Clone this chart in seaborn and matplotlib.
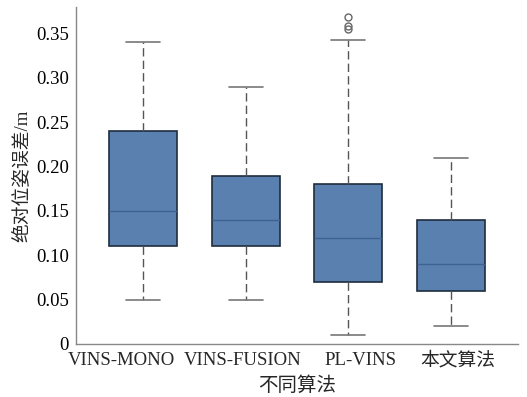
import numpy as np
import pandas as pd
import matplotlib
matplotlib.use("Agg")
import matplotlib.pyplot as plt
import seaborn as sns

categories = ["VINS-MONO", "VINS-FUSION", "PL-VINS", "本文算法"]
vins_mono = [0.05, 0.11, 0.15, 0.24, 0.34]
vins_fusion = [0.05, 0.11, 0.14, 0.19, 0.29]
pl_vins = [0.01, 0.03, 0.05, 0.06, 0.07, 0.08, 0.10, 0.11, 0.12,
           0.14, 0.16, 0.17, 0.18, 0.343, 0.355, 0.359, 0.369]
ours = [0.02, 0.06, 0.09, 0.14, 0.21]
yticks = [0, 0.05, 0.10, 0.15, 0.20, 0.25, 0.30, 0.35]
ytick_labels = ["0", "0.05", "0.10", "0.15", "0.20", "0.25", "0.30", "0.35"]
xlabel = "不同算法"
ylabel = "绝对位姿误差/m"

groups = [vins_mono, vins_fusion, pl_vins, ours]
df = pd.DataFrame({
    "alg": np.concatenate([[c] * len(g) for c, g in zip(categories, groups)]),
    "err": np.concatenate(groups),
})

sns.set_style("white")
plt.rcParams["font.family"] = ["Liberation Serif", "Noto Sans CJK SC", "DejaVu Sans"]

fig = plt.figure(figsize=(5.27, 3.97), dpi=100)
ax = fig.add_axes([76 / 527, 1 - 344 / 397, (518 - 76) / 527, (344 - 7) / 397])

sns.boxplot(
    data=df, x="alg", y="err", order=categories, ax=ax,
    color="#5a80b0", saturation=1, width=0.66, whis=1.5,
    boxprops=dict(facecolor="#5a80b0", edgecolor="#1f2d3d", linewidth=1.2),
    medianprops=dict(color="#3e6390", linewidth=1.0),
    whiskerprops=dict(color="#555555", linestyle=(0, (6, 3)), linewidth=1.0),
    capprops=dict(color="#777777", linewidth=1.2),
    flierprops=dict(marker="o", markersize=5, markerfacecolor="none",
                    markeredgecolor="#666666", markeredgewidth=1.0),
)

ax.set_ylim(0, 0.38)
ax.set_xlim(-0.65, 3.65)
ax.set_yticks(yticks)
ax.set_yticklabels(ytick_labels, fontsize=13.5)
ax.set_xticks(range(len(categories)))
ax.set_xticklabels([""] * len(categories))
ax.set_xlabel(xlabel, fontsize=14, labelpad=20)
ax.set_ylabel(ylabel, fontsize=13.5, labelpad=4)

# category labels, nudged horizontally (pixels) as in the reference layout
label_shift_px = [-21, -3, 12, 7]
for i, (cat, dx) in enumerate(zip(categories, label_shift_px)):
    ax.annotate(cat, xy=(i, 0), xycoords=ax.get_xaxis_transform(),
                xytext=(dx * 0.72, -5.5), textcoords="offset points",
                ha="center", va="top", fontsize=13.5, annotation_clip=False)

for s in ["top", "right"]:
    ax.spines[s].set_visible(False)
for s in ["left", "bottom"]:
    ax.spines[s].set_color("#888888")
    ax.spines[s].set_linewidth(1.0)

ax.tick_params(axis="both", direction="in", length=4, width=1.0, color="#888888",
               labelcolor="black")
ax.tick_params(axis="y", pad=5)
ax.set_yticks([0.38], minor=True)
ax.set_xticks([3.65], minor=True)
ax.tick_params(which="minor", direction="in", length=4, width=1.0, color="#888888")

fig.savefig("out.png", dpi=100)
